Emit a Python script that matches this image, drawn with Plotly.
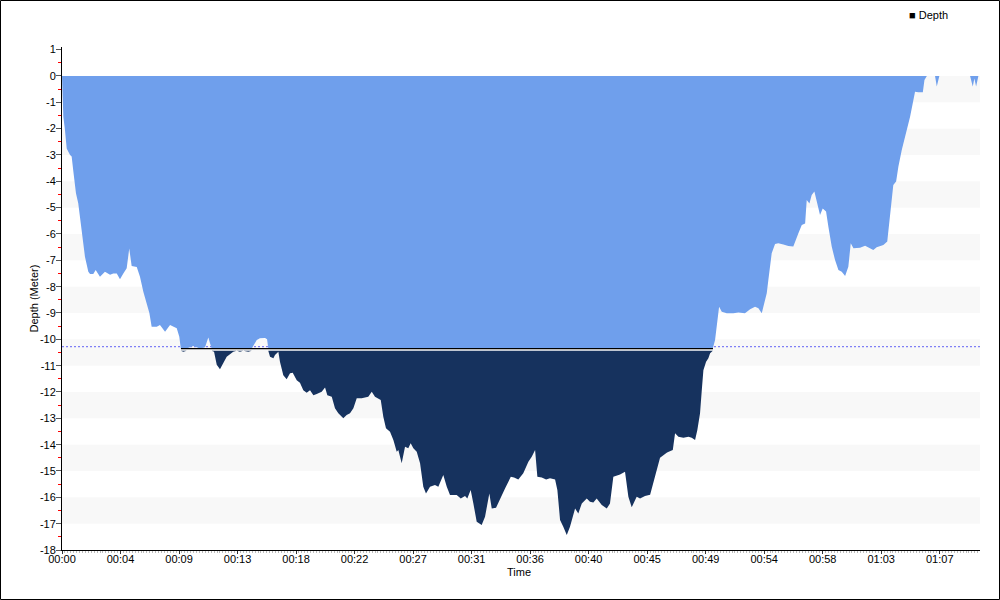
import numpy as np
import plotly.graph_objects as go

# ---- data (time in minutes, depth in metres) ----
time_min = [0, 0.05, 0.07, 0.10, 0.22, 0.35, 0.60, 0.72, 0.84, 0.97, 1.04, 1.21, 1.39, 1.54, 1.71,
            1.96, 2.09, 2.33, 2.51, 2.83, 3.20, 3.58, 3.82, 4.08, 4.32, 4.57, 4.82, 5.01, 5.19, 5.57,
            5.81, 6.06, 6.31, 6.51, 6.68, 7.06, 7.30, 7.68, 8.05, 8.55, 8.74, 8.85, 9.04, 9.29, 9.78,
            10.28, 10.66, 10.90, 11.15, 11.33, 11.53, 11.77, 12.02, 12.27, 12.76, 13.02, 13.26, 13.51,
            13.88, 14.14, 14.51, 14.75, 15.13, 15.28, 15.37, 15.50, 15.75, 15.87, 16.12, 16.24, 16.37,
            16.49, 16.74, 16.99, 17.19, 17.49, 17.73, 17.98, 18.23, 18.48, 18.73, 18.98, 19.35, 19.60,
            19.77, 20.10, 20.34, 20.59, 20.96, 21.21, 21.46, 21.71, 21.96, 22.33, 22.82, 23.08, 23.32,
            23.57, 23.75, 23.94, 24.14, 24.44, 24.69, 24.94, 25.06, 25.31, 25.56, 25.80, 25.98, 26.18,
            26.43, 26.68, 26.92, 27.12, 27.42, 27.79, 28.04, 28.41, 28.67, 28.91, 29.41, 29.71, 30.03,
            30.20, 30.45, 30.65, 30.90, 31.27, 31.52, 31.84, 32.02, 32.34, 32.76, 33.01, 33.44, 33.68,
            34.00, 34.37, 34.75, 35.00, 35.25, 35.42, 35.75, 36.07, 36.36, 36.74, 36.91, 37.11, 37.35,
            37.61, 37.85, 38.10, 38.23, 38.47, 38.73, 39.10, 39.34, 39.59, 39.84, 40.22, 40.59, 40.83,
            41.08, 41.58, 41.95, 42.20, 42.45, 42.82, 43.07, 43.44, 43.82, 44.19, 44.56, 45.08, 45.51,
            45.68, 45.93, 46.30, 46.68, 46.92, 47.17, 47.34, 47.54, 47.67, 47.79, 47.99, 48.16, 48.29,
            48.49, 48.66, 48.78, 48.96, 49.16, 49.53, 50.02, 50.40, 50.89, 51.27, 51.64, 51.89, 52.14,
            52.31, 52.51, 52.63, 52.76, 52.88, 53.13, 53.37, 53.75, 54.12, 54.49, 54.75, 54.87, 55.12,
            55.37, 55.49, 55.69, 55.86, 56.06, 56.24, 56.48, 56.68, 56.93, 57.10, 57.35, 57.60, 57.85,
            58.10, 58.35, 58.59, 58.77, 58.97, 59.46, 59.84, 60.21, 60.45, 60.70, 61.20, 61.49, 61.64,
            61.77, 61.94, 62.15, 62.32, 62.57, 62.82, 62.99, 63.19, 63.39, 63.56, 63.81, 64.14, 64.26,
            64.44, 65.05, 65.18, 65.37, 67.66, 67.86, 67.98, 68.11, 68.28, 68.40]
depth_m = [0, -0.5, -1.0, -1.55, -2.05, -2.75, -3.0, -3.06, -3.6, -4.07, -4.45, -4.83, -5.59, -6.35, -6.86,
           -7.43, -7.52, -7.52, -7.37, -7.62, -7.43, -7.55, -7.5, -7.5, -7.72, -7.5, -7.3, -6.55, -7.22, -7.25,
           -7.62, -8.19, -8.63, -9.0, -9.52, -9.52, -9.46, -9.71, -9.46, -9.58, -9.9, -10.34, -10.47, -10.35, -10.25,
           -10.35, -10.3, -9.93, -10.35, -10.47, -10.97, -11.14, -10.91, -10.66, -10.47, -10.35, -10.47, -10.35,
           -10.47, -10.35, -10.03, -9.96, -9.95, -10.0, -10.4, -10.66, -10.72, -10.6, -10.47, -10.85, -11.17,
           -11.36, -11.52, -11.29, -11.27, -11.55, -11.65, -11.93, -12.03, -11.93, -12.12, -12.08, -11.99, -11.83,
           -12.12, -12.18, -12.62, -12.81, -13.0, -12.87, -12.81, -12.62, -12.24, -12.24, -12.18, -11.99, -12.18,
           -12.24, -12.3, -12.94, -13.38, -13.51, -13.82, -14.27, -14.2, -14.71, -14.08, -14.14, -13.95, -14.14,
           -14.27, -14.71, -15.6, -15.85, -15.6, -15.53, -15.6, -15.15, -15.6, -15.91, -15.91, -16.04, -15.95,
           -16.04, -15.72, -16.23, -16.93, -17.05, -16.74, -15.85, -16.42, -16.4, -15.91, -15.66, -15.22, -15.25,
           -15.32, -15.09, -14.65, -14.46, -14.2, -15.22, -15.25, -15.32, -15.28, -15.32, -15.72, -16.86, -17.12,
           -17.43, -17.12, -16.61, -16.42, -16.61, -16.23, -16.04, -16.17, -16.2, -16.04, -16.29, -16.42, -16.23,
           -15.22, -15.13, -15.03, -15.98, -16.38, -15.98, -16.04, -15.95, -15.9, -15.2, -14.5, -14.3, -14.2,
           -13.57, -13.7, -13.74, -13.7, -13.74, -13.82, -13.44, -12.81, -11.93, -11.17, -10.85, -10.72, -10.53,
           -10.38, -10.03, -9.52, -8.76, -8.95, -9.01, -9.01, -8.98, -9.01, -8.86, -8.76, -8.82, -9.01,
           -8.63, -8.25, -7.75, -7.11, -6.73, -6.38, -6.35, -6.4, -6.46, -6.48, -6.1, -5.97, -5.66,
           -5.6, -4.71, -4.84, -4.52, -4.39, -4.77, -5.28, -5.03, -5.15, -5.72, -6.48, -6.99, -7.37,
           -7.43, -7.6, -7.24, -6.35, -6.54, -6.52, -6.45, -6.54, -6.61, -6.5, -6.42, -6.29, -5.6,
           -4.84, -4.14, -4.01, -3.44, -2.81, -2.31, -2.05, -1.55, -1.04, -0.6, -0.62, -0.62, -0.15,
           0, 0, -0.4, 0, 0, -0.4, -0.1, -0.4, 0, 0]

threshold_depth = -10.35     # black threshold line
reference_depth = -10.28     # dotted reference line

x_tick_step = 4.36
x_tick_labels = ["00:00", "00:04", "00:09", "00:13", "00:18", "00:22", "00:27", "00:31",
                 "00:36", "00:40", "00:45", "00:49", "00:54", "00:58", "01:03", "01:07"]
y_tick_values = list(range(1, -19, -1))
y_tick_labels = [str(v) for v in y_tick_values]

# ---- derived ----
t = np.array(time_min, dtype=float)
d = np.array(depth_m, dtype=float)
light_y = np.maximum(d, threshold_depth)
gap = 0.08
dark_top = threshold_depth - gap
dark_y = np.minimum(d, dark_top)

below = np.where(d < threshold_depth)[0]
i0, i1 = below[0], below[-1]
def cross(a, b):
    return t[a] + (threshold_depth - d[a]) * (t[b] - t[a]) / (d[b] - d[a])
t_start = cross(i0 - 1, i0)
t_end = cross(i1, i1 + 1)

LIGHT = "#6f9fec"
DARK = "#16325e"
FONT = "Liberation Sans, Arial, sans-serif"

fig = go.Figure()
fig.add_trace(go.Scatter(x=t, y=light_y, mode="lines", line=dict(width=0, color=LIGHT),
                         fill="tozeroy", fillcolor=LIGHT, showlegend=False, hoverinfo="skip"))
fig.add_trace(go.Scatter(x=t, y=np.full_like(t, dark_top), mode="lines",
                         line=dict(width=0, color=DARK), showlegend=False, hoverinfo="skip"))
fig.add_trace(go.Scatter(x=t, y=dark_y, mode="lines", line=dict(width=0, color=DARK),
                         fill="tonexty", fillcolor=DARK, name="Depth", showlegend=False))
fig.add_trace(go.Scatter(x=[t_start, t_end], y=[threshold_depth, threshold_depth], mode="lines",
                         line=dict(width=1.3, color="#000000"), showlegend=False, hoverinfo="skip"))

shapes = []
for top in range(0, -18, -2):
    shapes.append(dict(type="rect", xref="paper", x0=0, x1=1, yref="y", y0=top - 1, y1=top,
                       fillcolor="#f8f8f8", line=dict(width=0), layer="below"))
shapes.append(dict(type="line", xref="paper", x0=0, x1=1, yref="y", y0=reference_depth,
                   y1=reference_depth, line=dict(color="#7f7ff5", width=1.2, dash="2px,2px"),
                   layer="below"))
# outer frame
W, H = 918.0, 503.0
shapes.append(dict(type="rect", xref="paper", yref="paper",
                   x0=(0.5 - 62) / W, x1=(999.5 - 62) / W,
                   y0=(550 - 599.5) / H, y1=(550 - 0.5) / H,
                   line=dict(color="#000000", width=1), fillcolor="rgba(0,0,0,0)", layer="above"))

fig.update_layout(
    width=1000, height=600,
    margin=dict(l=62, r=20, t=47, b=50),
    paper_bgcolor="white", plot_bgcolor="white",
    font=dict(family=FONT, size=11, color="#000000"),
    shapes=shapes,
    showlegend=False,
    annotations=[
        dict(text="■ Depth", xref="paper", yref="paper", x=(907 - 62) / W, y=(550 - 15) / H,
             xanchor="left", yanchor="middle", showarrow=False, font=dict(size=11)),
        dict(text="Depth (Meter)", xref="paper", yref="paper", x=(33 - 62) / W, y=0.5,
             xanchor="center", yanchor="middle", textangle=-90, showarrow=False, font=dict(size=11)),
        dict(text="Time", xref="paper", yref="paper", x=(519 - 62) / W, y=(550 - 572) / H,
             xanchor="center", yanchor="middle", showarrow=False, font=dict(size=11)),
    ],
)
fig.update_xaxes(
    range=[0, 68.4], showgrid=False, zeroline=False,
    showline=True, linecolor="#000000", linewidth=1,
    tickmode="array", tickvals=[i * x_tick_step for i in range(len(x_tick_labels))],
    ticktext=x_tick_labels, ticks="outside", ticklen=3, tickcolor="#333333",
    ticklabelstandoff=-4,
    minor=dict(tickmode="linear", tick0=0, dtick=x_tick_step / 20, ticks="outside",
               ticklen=2, tickcolor="#bbbbbb", showgrid=False),
)
fig.update_yaxes(
    range=[-18, 1.1], showgrid=False, zeroline=False,
    showline=True, linecolor="#000000", linewidth=1,
    tickmode="array", tickvals=y_tick_values, ticktext=y_tick_labels,
    ticks="outside", ticklen=5, tickcolor="#555555",
    ticklabelstandoff=-2,
    minor=dict(tickmode="linear", tick0=0.5, dtick=1, ticks="outside", ticklen=3,
               tickcolor="#ff0000", showgrid=False),
)

fig.write_html("out.html", config={"displayModeBar": False},
               post_script="document.body.style.margin='0';")
